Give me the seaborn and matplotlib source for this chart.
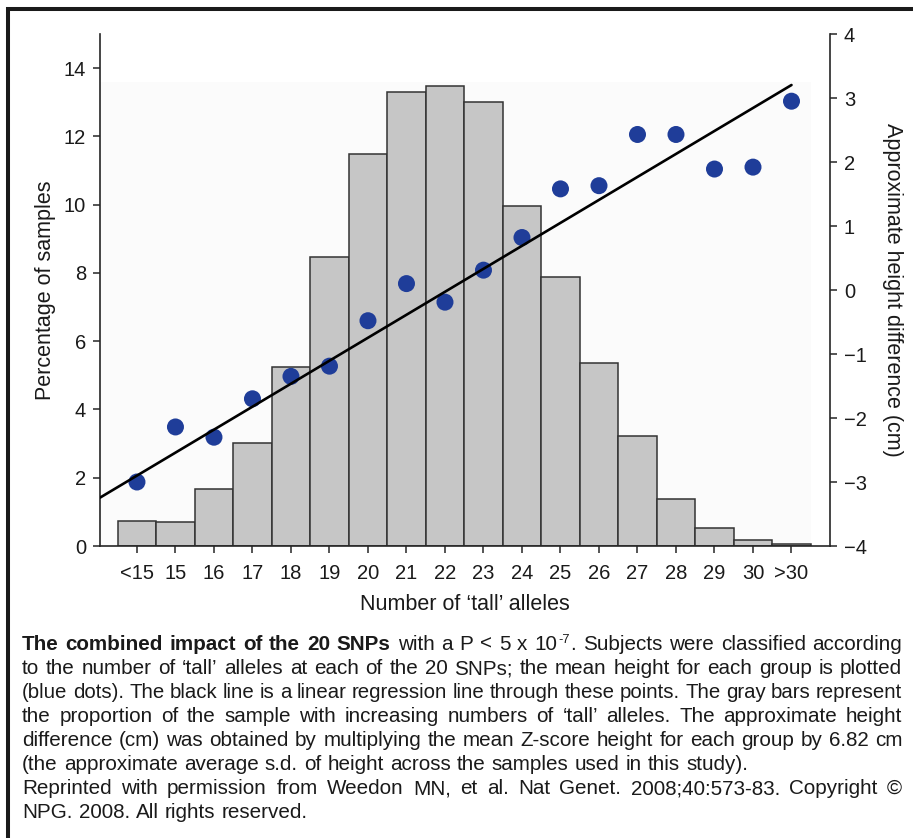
import re
import numpy as np
import pandas as pd
import matplotlib
matplotlib.use("Agg")
import matplotlib.pyplot as plt
import seaborn as sns
from matplotlib.lines import Line2D
from matplotlib.patches import Rectangle

# ---------------- data ----------------
categories = ['<15', '15', '16', '17', '18', '19', '20', '21', '22', '23',
              '24', '25', '26', '27', '28', '29', '30', '>30']
percent_samples = [0.74, 0.71, 1.67, 3.01, 5.23, 8.46, 11.48, 13.29, 13.49,
                   13.0, 9.95, 7.87, 5.35, 3.21, 1.38, 0.52, 0.19, 0.05]
height_diff_cm = [-3.0, -2.14, -2.30, -1.70, -1.35, -1.19, -0.48, 0.10, -0.19,
                  0.31, 0.82, 1.58, 1.63, 2.43, 2.43, 1.89, 1.92, 2.95]
regression_intercept = -2.90   # value at first category
regression_slope = 0.359       # cm per category
left_ticks = [0, 2, 4, 6, 8, 10, 12, 14]
right_ticks = [-4, -3, -2, -1, 0, 1, 2, 3, 4]

x_label = "Number of \u2018tall\u2019 alleles"
y_label_left = "Percentage of samples"
y_label_right = "Approximate height difference (cm)"

caption_lines = [
    "**The combined impact of the 20 SNPs** with a P < 5 x 10^{-7}. Subjects were classified according",
    "to the number of \u2018tall\u2019 alleles at each of the 20 SNPs; the mean height for each group is plotted",
    "(blue dots). The black line is a linear regression line through these points. The gray bars represent",
    "the proportion of the sample with increasing numbers of \u2018tall\u2019 alleles. The approximate height",
    "difference (cm) was obtained by multiplying the mean Z-score height for each group by 6.82 cm",
    "(the approximate average s.d. of height across the samples used in this study).",
    "Reprinted with permission from Weedon MN, et al. Nat Genet. 2008;40:573-83. Copyright \u00a9",
    "NPG. 2008. All rights reserved.",
]
caption_justify = [True, True, True, True, True, False, True, False]

# ---------------- style ----------------
sns.set_theme(style="ticks")
plt.rcParams['font.family'] = ['Liberation Sans', 'DejaVu Sans']
plt.rcParams['axes.unicode_minus'] = True
cap_family = ['Liberation Sans', 'DejaVu Sans']

W, H = 913, 838
fig = plt.figure(figsize=(W / 100, H / 100), dpi=100)
fig.patch.set_facecolor('white')

ax = fig.add_axes([100 / W, (H - 546) / H, 730 / W, 512 / H])
ax.set_facecolor('white')

spine_c = '#262626'
df = pd.DataFrame({'allele': categories, 'percent': percent_samples})
sns.barplot(data=df, x='allele', y='percent', order=categories,
            color='#c6c6c6', saturation=1, width=1.0,
            edgecolor='#333333', linewidth=1.1, ax=ax, zorder=2)

ax2 = ax.twinx()
x_pos = np.arange(len(categories))
sns.scatterplot(x=x_pos, y=height_diff_cm, ax=ax2, color='#1f3d99', s=150,
                edgecolor='none', zorder=4, legend=False)

xmin, xmax = -0.96, 18.0
line_x = np.array([xmin, x_pos[-1]])
sns.lineplot(x=line_x, y=regression_intercept + regression_slope * line_x,
             ax=ax2, color='black', linewidth=1.9, zorder=5)

ax.set_xlim(xmin, xmax)
ax.set_ylim(0, 15)
ax2.set_ylim(-4, 4)
ax.set_yticks(left_ticks)
ax2.set_yticks(right_ticks)
ax.set_xticks(x_pos)
ax.set_xticklabels(categories)

# faint plotting-area tint
ax.add_patch(Rectangle((xmin, 0), (len(categories) - 0.5) - xmin, 13.6,
                       facecolor='#fbfbfb', edgecolor='none', zorder=0.5))

for a in (ax, ax2):
    for s in a.spines.values():
        s.set_color(spine_c)
        s.set_linewidth(1.2)
ax.spines['top'].set_visible(False)
ax.spines['right'].set_visible(False)
ax2.spines['top'].set_visible(False)
ax2.spines['left'].set_visible(False)
ax2.spines['bottom'].set_visible(False)

ax.tick_params(axis='both', direction='out', length=5, width=1.1,
               colors=spine_c, labelcolor='#1a1a1a', labelsize=14.5, pad=5)
ax2.tick_params(axis='y', direction='out', length=5, width=1.1,
                colors=spine_c, labelcolor='#1a1a1a', labelsize=14.5, pad=5)
ax.tick_params(axis='x', pad=8)

ax.set_xlabel(x_label, fontsize=15.5, color='#1a1a1a')
ax.xaxis.set_label_coords(0.5, (546 - 605) / 512)
ax.xaxis.label.set_va('center')
ax.set_ylabel(y_label_left, fontsize=15.5, color='#1a1a1a')
ax.yaxis.set_label_coords((46 - 100) / 730, 0.5)
ax.yaxis.label.set_va('center')
ax.yaxis.label.set_ha('center')
ax2.set_ylabel(y_label_right, fontsize=15.5, color='#1a1a1a', rotation=270)
ax2.yaxis.set_label_coords((892 - 100) / 730, 0.5)
ax2.yaxis.label.set_va('center')
ax2.yaxis.label.set_ha('center')

# frame lines (left and top)
fig.add_artist(Line2D([8 / W, 8 / W, 1.0], [0.0, (H - 9.5) / H, (H - 9.5) / H],
                      transform=fig.transFigure, color='#1a1a1a', lw=2.9,
                      solid_joinstyle='miter'))

# ---------------- caption (justified) ----------------
def parse(line):
    words, bold = [], False
    for w in line.split(' '):
        segs = []
        for p in re.split(r'(\*\*|\^\{[^}]*\})', w):
            if p == '':
                continue
            if p == '**':
                bold = not bold
                continue
            if p.startswith('^{'):
                segs.append((p[2:-1], 's'))
                continue
            segs.append((p, 'b' if bold else 'n'))
        if segs:
            words.append(segs)
    return words


renderer = fig.canvas.get_renderer()
x0, x1 = 22, 903
base0, lead = 650, 24.0
ref_line_index, ref_line_width = 5, 735.0


def make_seg(txt, style, fs):
    kw = dict(family=cap_family, color='#1a1a1a', va='baseline', ha='left',
              transform=fig.transFigure)
    if style == 'b':
        return fig.text(0, 0, txt, fontsize=fs, fontweight='bold', **kw)
    if style == 's':
        return fig.text(0, 0, txt, fontsize=fs * 0.62, **kw)
    return fig.text(0, 0, txt, fontsize=fs, **kw)


def build_line(i, fs):
    items, total = [], 0
    for wd in parse(caption_lines[i]):
        segs, ww = [], 0
        for txt, st in wd:
            t = make_seg(txt, st, fs)
            w = t.get_window_extent(renderer).width + (1.0 if st == 's' else 0.8)
            segs.append((t, st, w))
            ww += w
        items.append((segs, ww))
        total += ww
    space = fs * 100 / 72 * 0.26
    return items, total, space


def clear(items):
    for segs, _ in items:
        for t, _, _ in segs:
            t.remove()


# base font size: match the unjustified reference line width
trial = 14.0
items, total, space = build_line(ref_line_index, trial)
nat = total + space * (len(items) - 1)
clear(items)
fs_base = trial * ref_line_width / nat

for i in range(len(caption_lines)):
    fs = fs_base
    items, total, space = build_line(i, fs)
    min_space = fs * 100 / 72 * 0.22
    nat = total + min_space * (len(items) - 1)
    if caption_justify[i] and nat > (x1 - x0):
        clear(items)
        fs = fs_base * (x1 - x0) / nat * 0.997
        items, total, space = build_line(i, fs)
    if caption_justify[i] and len(items) > 1:
        gap = (x1 - x0 - total) / (len(items) - 1)
    else:
        gap = space
    base = base0 + lead * i
    x = x0
    for segs, ww in items:
        for t, st, w in segs:
            rise = fs * 100 / 72 * 0.36 if st == 's' else 0
            t.set_position((x / W, (H - base + rise) / H))
            x += w
        x += gap

fig.savefig("out.png", dpi=100, facecolor='white')
